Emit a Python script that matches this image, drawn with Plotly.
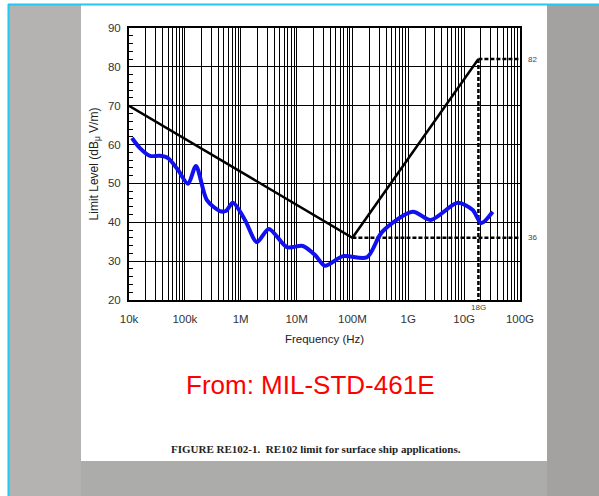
import plotly.graph_objects as go

# ---------------- data ----------------
tick_freqs = [1e4, 1e5, 1e6, 1e7, 1e8, 1e9, 1e10, 1e11]
tick_labels = ["10k", "100k", "1M", "10M", "100M", "1G", "10G", "100G"]
y_ticks = [20, 30, 40, 50, 60, 70, 80, 90]

limit_freq = [1e4, 1e8, 1.8e10]
limit_level = [70, 36, 82]
flat_top_freq = [1.8e10, 1e11]
flat_top_level = [82, 82]
flat_bot_freq = [1e8, 1e11]
flat_bot_level = [36, 36]
marker_freq = [1.8e10, 1.8e10]
marker_level = [82, 20]

meas_freq = [1.13e4, 1.57e4, 2.38e4, 3.59e4, 5.0e4, 7.5e4, 1.14e5, 1.58e5,
             2.48e5, 4.25e5, 5.43e5, 7.24e5, 1.19e6, 1.95e6, 3.19e6, 6.7e6,
             1.29e7, 2.14e7, 3.21e7, 6.76e7, 1.82e8, 3.39e8, 1.2e9, 2.51e9,
             7.67e9, 1.41e10, 2.04e10, 3.24e10]
meas_level = [61.7, 59.1, 57.1, 57.1, 56.5, 53.5, 49.9, 54.5,
              45.7, 42.9, 42.9, 45.0, 40.6, 34.9, 38.3, 33.6,
              33.9, 31.6, 28.8, 31.3, 31.0, 37.5, 42.7, 40.6,
              45.0, 43.2, 39.8, 42.7]

# ---------------- layout geometry (pixels) ----------------
W, H = 599, 496
L, R, T, B = 129, 520, 28, 300


def px(x):
    return (x - L) / (R - L)


def py(y):
    return (B - y) / (B - T)


minor_vals = [m * 10 ** e for e in range(4, 11) for m in range(2, 10)]

fig = go.Figure()

fig.add_trace(go.Scatter(x=limit_freq, y=limit_level, mode="lines",
                         line=dict(color="black", width=2.5), hoverinfo="skip"))
for fx, fy in [(flat_top_freq, flat_top_level), (flat_bot_freq, flat_bot_level),
               (marker_freq, marker_level)]:
    fig.add_trace(go.Scatter(x=fx, y=fy, mode="lines",
                             line=dict(color="black", width=2.5, dash="4px,2px"),
                             hoverinfo="skip"))
fig.add_trace(go.Scatter(x=meas_freq, y=meas_level, mode="lines",
                         line=dict(color="#1010f0", width=4, shape="spline", smoothing=0.8),
                         hoverinfo="skip"))

shapes = [
    # grey photo background inside the cyan frame
    dict(type="rect", xref="paper", yref="paper", x0=px(8), x1=px(W + 5), y0=py(H + 5), y1=py(4),
         fillcolor="#acacab", line=dict(width=0), layer="below"),
    dict(type="rect", xref="paper", yref="paper", x0=px(9), x1=px(81), y0=py(H + 5), y1=py(5),
         fillcolor="#b4b3b2", line=dict(width=0), layer="below"),
    dict(type="rect", xref="paper", yref="paper", x0=px(547), x1=px(W + 5), y0=py(H + 5), y1=py(5),
         fillcolor="#a3a2a1", line=dict(width=0), layer="below"),
    # white document page
    dict(type="rect", xref="paper", yref="paper", x0=px(81), x1=px(547), y0=py(461), y1=py(5),
         fillcolor="white", line=dict(width=0), layer="below"),
    # cyan frame lines
    dict(type="line", xref="paper", yref="paper", x0=px(8), x1=px(W + 5), y0=py(4.5), y1=py(4.5),
         line=dict(color="#22c8ee", width=2)),
    dict(type="line", xref="paper", yref="paper", x0=px(8.5), x1=px(8.5), y0=py(4), y1=py(H + 5),
         line=dict(color="#22c8ee", width=2)),
]

annotations = [
    dict(xref="paper", yref="y", x=1, y=82, text="82", showarrow=False, xanchor="left",
         xshift=6, font=dict(size=8, color="#444", family="Liberation Sans")),
    dict(xref="paper", yref="y", x=1, y=36, text="36", showarrow=False, xanchor="left",
         xshift=6, font=dict(size=8, color="#444", family="Liberation Sans")),
    dict(xref="x", yref="y", x=10.2553, y=20, text="18G", showarrow=False, xanchor="center",
         yanchor="top", yshift=-1, font=dict(size=8, color="#444", family="Liberation Sans")),
    dict(xref="paper", yref="paper", x=px(310), y=py(385), text="From: MIL-STD-461E",
         showarrow=False, xanchor="center", yanchor="middle",
         font=dict(size=26, color="#ff0000", family="Liberation Sans")),
    dict(xref="paper", yref="paper", x=px(316), y=py(449),
         text="<b>FIGURE RE102-1.  RE102 limit for surface ship applications.</b>",
         showarrow=False, xanchor="center", yanchor="middle",
         font=dict(size=11, color="#222", family="Liberation Serif")),
]

fig.update_layout(
    width=W, height=H,
    margin=dict(l=L, r=W - R, t=T, b=H - B, pad=0),
    paper_bgcolor="white", plot_bgcolor="white",
    showlegend=False,
    shapes=shapes, annotations=annotations,
    font=dict(family="Liberation Sans", color="#333", size=11),
)

fig.update_xaxes(
    type="log", range=[4, 11],
    tickmode="array", tickvals=tick_freqs, ticktext=tick_labels,
    showgrid=True, gridcolor="black", gridwidth=1,
    minor=dict(tickmode="array", tickvals=minor_vals, showgrid=True,
               gridcolor="black", gridwidth=1),
    showline=True, linecolor="black", linewidth=2, mirror=True,
    ticks="", ticklabelstandoff=7,
    tickfont=dict(size=11.5, color="#333"),
    title=dict(text="Frequency (Hz)", font=dict(size=11.5, color="#222"), standoff=11),
    zeroline=False,
)
fig.update_yaxes(
    range=[20, 90], tickmode="array", tickvals=y_ticks,
    showgrid=True, gridcolor="black", gridwidth=1,
    minor=dict(dtick=2, ticks="inside", ticklen=4, tickcolor="black", showgrid=False),
    showline=True, linecolor="black", linewidth=2, mirror=True,
    ticks="inside", ticklen=5, tickcolor="black", ticklabelstandoff=4,
    tickfont=dict(size=11.5, color="#333"),
    title=dict(text="Limit Level (dB<sub>μ</sub> V/m)", font=dict(size=12, color="#222"), standoff=7),
    zeroline=False,
)

fig.write_html("out.html")
